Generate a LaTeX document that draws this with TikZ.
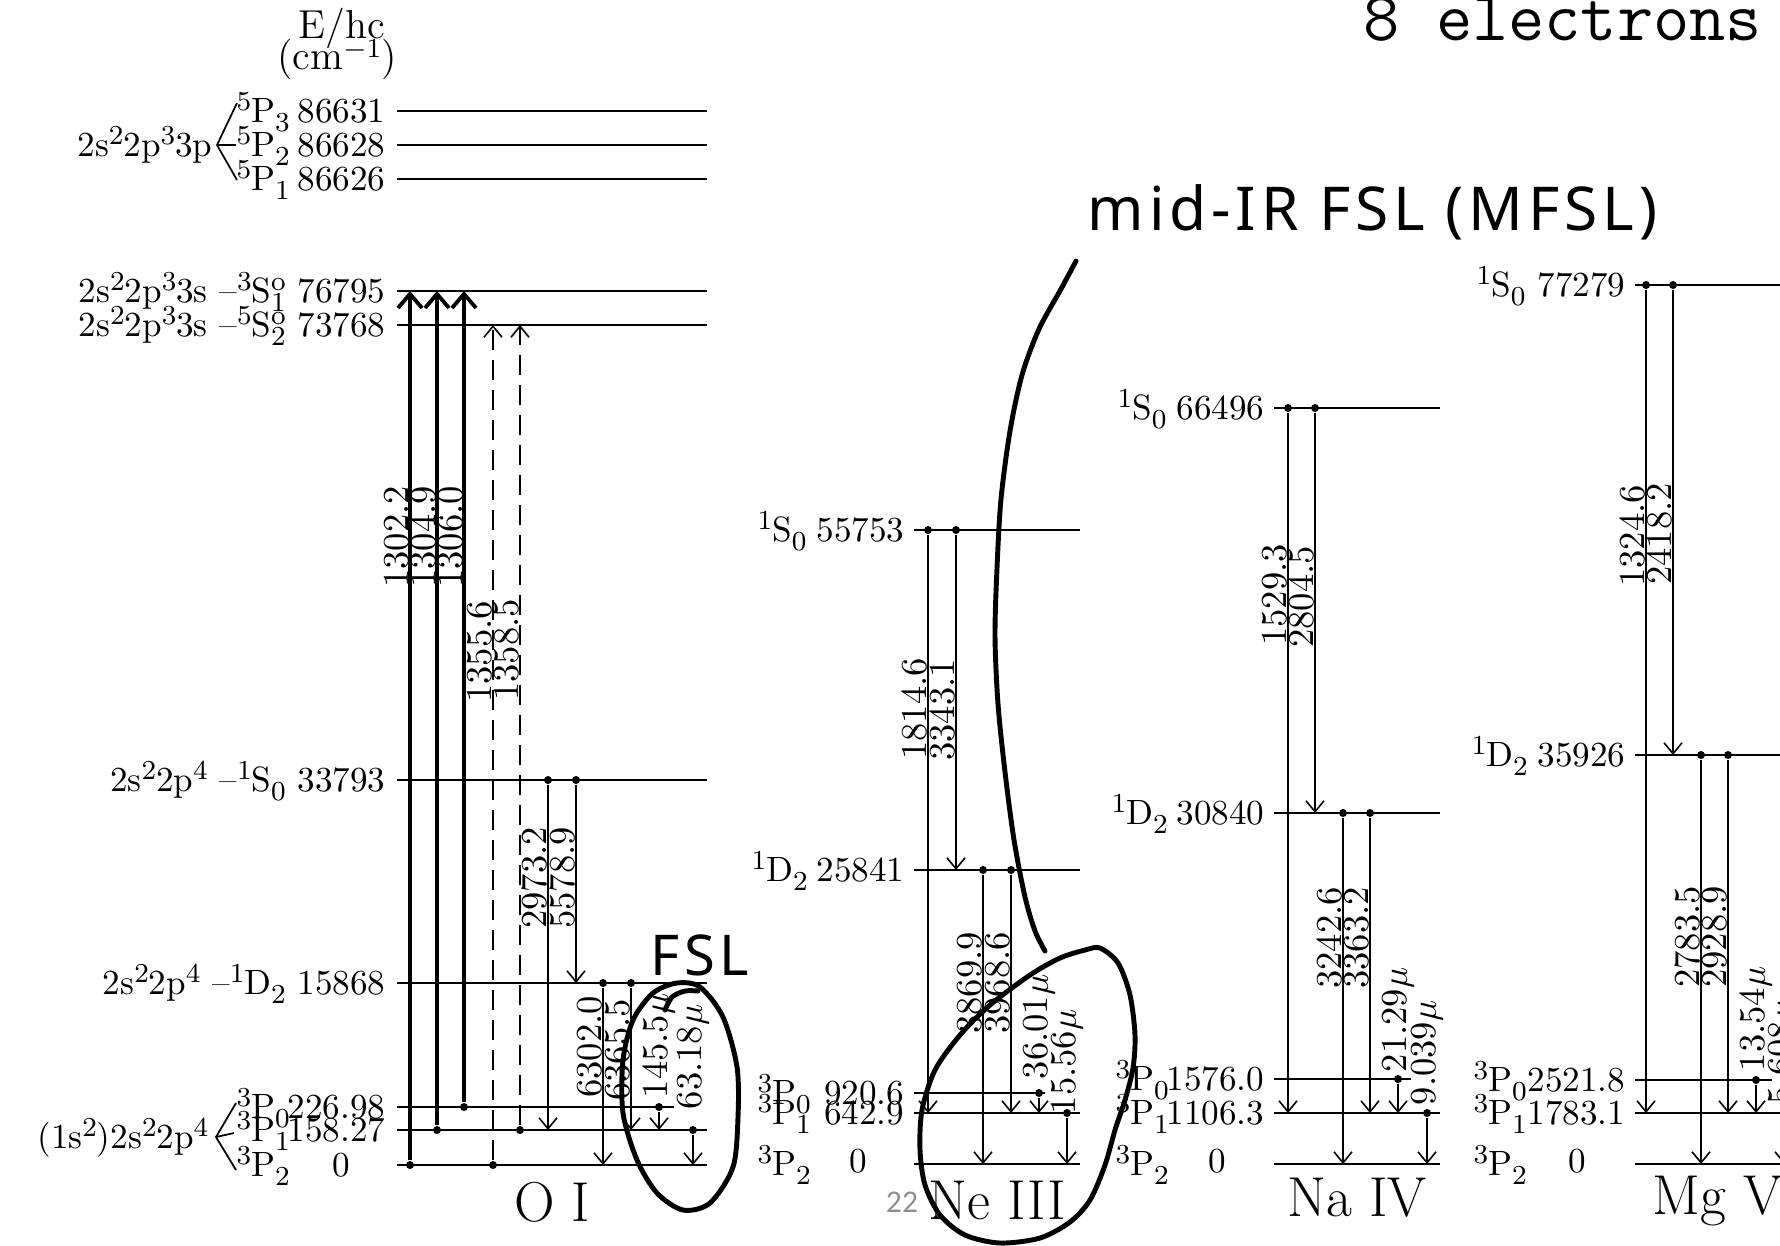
\documentclass[tikz,border=0pt]{standalone}
\usepackage{fontspec}
\newfontfamily\handfont{Noto Sans}[LetterSpace=8]
\newfontfamily\slidefont{Carlito}
\usetikzlibrary{arrows.meta}
\definecolor{pgray}{RGB}{143,143,143}
\newcommand{\spx}[1]{\raisebox{3.4pt}{\fontsize{7.8}{7.8}\selectfont #1}}
\newcommand{\sbx}[1]{\raisebox{-2.8pt}{\fontsize{7.8}{7.8}\selectfont #1}}
\newcommand{\lev}[4]{\coordinate (#1a) at (#2,#4); \coordinate (#1b) at (#3,#4); \draw[level] (#1a) -- (#1b);}
\newcommand{\tran}[5]{\node[dot] (#1) at (#2,0 |- #3a) {}; \draw[#5] (#1) -- (#2,0 |- #4a);}
\begin{document}
\begin{tikzpicture}[x=0.1mm,y=-0.1mm,
 level/.style={line width=0.5pt},
 thk/.style={line width=1.1pt,-{Straight Barb[length=1.4mm,width=2.4mm]}},
 thn/.style={line width=0.45pt,-{Straight Barb[length=1.1mm,width=1.8mm]}},
 dsh/.style={line width=0.45pt,dash pattern=on 2mm off 1mm,-{Straight Barb[length=1.1mm,width=1.8mm]}},
 dot/.style={circle,fill,inner sep=0pt,minimum size=0.8mm},
 lbl/.style={inner sep=0pt,font=\fontsize{10}{12}\selectfont},
 rl/.style={rotate=90,inner sep=0pt,text height=6.8pt,text depth=0pt,font=\fontsize{10.4}{12}\selectfont},
 big/.style={inner sep=0pt,font=\fontsize{16}{18}\selectfont},
 hw/.style={line width=1.4pt,line cap=round,line join=round},
 hwtext/.style={inner sep=0pt,font=\handfont\fontsize{17.2}{20}\selectfont},
]
\useasboundingbox (0,0) rectangle (1780,1245);
\clip (0,0) rectangle (1780,1245);

% ---------------- O I levels
\lev{O5P3}{397}{707}{111}
\lev{O5P2}{397}{707}{145}
\lev{O5P1}{397}{707}{179}
\lev{O3S}{397}{707}{291}
\lev{O5S}{397}{707}{325}
\lev{O1S}{397}{707}{780}
\lev{O1D}{397}{707}{983}
\lev{OP0}{397}{674}{1107}
\lev{OP1}{397}{707}{1130}
\lev{OP2}{397}{707}{1165}
% ---------------- Ne III levels
\lev{N1S}{914}{1080}{530}
\lev{N1D}{914}{1080}{870}
\lev{NP0}{914}{1045}{1093}
\lev{NP1}{914}{1080}{1113}
\lev{NP2}{914}{1080}{1164}
% ---------------- Na IV levels
\lev{A1S}{1274}{1440}{408}
\lev{A1D}{1274}{1440}{813}
\lev{AP0}{1274}{1411}{1079}
\lev{AP1}{1274}{1440}{1113}
\lev{AP2}{1274}{1440}{1164}
% ---------------- Mg V levels
\lev{M1S}{1635}{1800}{285}
\lev{M1D}{1635}{1800}{755}
\lev{MP0}{1635}{1772}{1080}
\lev{MP1}{1635}{1800}{1113}
\lev{MP2}{1635}{1800}{1164}

% ---------------- O I transitions
\tran{oa}{410}{OP2}{O3S}{thk}
\tran{ob}{437}{OP1}{O3S}{thk}
\tran{oc}{464}{OP0}{O3S}{thk}
\tran{od}{493}{OP2}{O5S}{dsh}
\tran{oe}{520}{OP1}{O5S}{dsh}
\tran{of}{548}{O1S}{OP1}{thn}
\tran{og}{576}{O1S}{O1D}{thn}
\tran{oh}{603}{O1D}{OP2}{thn}
\tran{oi}{631}{O1D}{OP1}{thn}
\tran{oj}{659}{OP0}{OP1}{thn}
\tran{ok}{693}{OP1}{OP2}{thn}
% ---------------- Ne III transitions
\tran{na}{928}{N1S}{NP1}{thn}
\tran{nb}{956}{N1S}{N1D}{thn}
\tran{nc}{983}{N1D}{NP2}{thn}
\tran{nd}{1011}{N1D}{NP1}{thn}
\tran{ne}{1039}{NP0}{NP1}{thn}
\tran{nf}{1067}{NP1}{NP2}{thn}
% ---------------- Na IV transitions
\tran{aa}{1288}{A1S}{AP1}{thn}
\tran{ab}{1315}{A1S}{A1D}{thn}
\tran{ac}{1343}{A1D}{AP2}{thn}
\tran{ad}{1370}{A1D}{AP1}{thn}
\tran{ae}{1398}{AP0}{AP1}{thn}
\tran{af}{1427}{AP1}{AP2}{thn}
% ---------------- Mg V transitions
\tran{ma}{1646}{M1S}{MP1}{thn}
\tran{mb}{1673}{M1S}{M1D}{thn}
\tran{mc}{1701}{M1D}{MP2}{thn}
\tran{md}{1728}{M1D}{MP1}{thn}
\tran{me}{1756}{MP0}{MP1}{thn}
\tran{mf}{1784}{MP1}{MP2}{thn}

% ---------------- wavelength labels
\node[rl] (t1) at (397,537) {1302.2};
\node[rl] (t2) at (424,537) {1304.9};
\node[rl] (t3) at (451,537) {1306.0};
\node[rl] (t4) at (480,652) {1355.6};
\node[rl] (t5) at (507,650) {1358.5};
\node[rl] (t6) at (535,878) {2973.2};
\node[rl] (t7) at (563,878) {5578.9};
\node[rl] (t8) at (590,1047) {6302.0};
\node[rl] (t9) at (618,1050) {6365.5};
\node[rl] (t10) at (656,1046) {145.5$\mu$};
\node[rl] (t11) at (690,1057) {63.18$\mu$};

\node[rl] (u1) at (915,709) {1814.6};
\node[rl] (u2) at (943,710) {3343.1};
\node[rl] (u3) at (970,983) {3869.9};
\node[rl] (u4) at (998,983) {3968.6};
\node[rl] (u5) at (1036,1027) {36.01$\mu$};
\node[rl] (u6) at (1064,1062) {15.56$\mu$};

\node[rl] (v1) at (1275,595) {1529.3};
\node[rl] (v2) at (1302,597) {2804.5};
\node[rl] (v3) at (1330,938) {3242.6};
\node[rl] (v4) at (1357,938) {3363.2};
\node[rl] (v5) at (1395,1020) {21.29$\mu$};
\node[rl] (v6) at (1424,1053) {9.039$\mu$};

\node[rl] (w1) at (1633,536) {1324.6};
\node[rl] (w2) at (1660,534) {2418.2};
\node[rl] (w3) at (1688,937) {2783.5};
\node[rl] (w4) at (1715,937) {2928.9};
\node[rl] (w5) at (1753,1019) {13.54$\mu$};
\node[rl] (w6) at (1781,1052) {5.608$\mu$};

% ---------------- O I level labels
\node[lbl,font=\fontsize{11.5}{13}\selectfont] (ehc) at (342,28) {E/hc};
\node[lbl,font=\fontsize{11.5}{13}\selectfont] (unit) at (337,59) {(cm\spx{$-$1})};
\node[lbl,anchor=base west] (s5p3) at (236,122) {\spx{5}P\sbx{3}};
\node[lbl,anchor=base west] (s5p2) at (236,156) {\spx{5}P\sbx{2}};
\node[lbl,anchor=base west] (s5p1) at (236,190) {\spx{5}P\sbx{1}};
\node[lbl,anchor=base east] (e5p3) at (386,122) {86631};
\node[lbl,anchor=base east] (e5p2) at (386,156) {86628};
\node[lbl,anchor=base east] (e5p1) at (386,190) {86626};
\node[lbl,anchor=base east] (c3p) at (213,156) {2s\spx{2}2p\spx{3}3p};
\coordinate (bra) at (217,145);
\draw[level] (237,103) -- (bra) -- (237,180);
\draw[level] (bra) -- (236,145);
\node[lbl,anchor=base east] (e3s) at (386,302) {2s\spx{2}2p\spx{3}3s \textendash\spx{3}S\rlap{\spx{o}}\sbx{1} 76795};
\node[lbl,anchor=base east] (e5s) at (386,336) {2s\spx{2}2p\spx{3}3s \textendash\spx{5}S\rlap{\spx{o}}\sbx{2} 73768};
\node[lbl,anchor=base east] (e1s) at (386,791) {2s\spx{2}2p\spx{4} \textendash\spx{1}S\sbx{0} 33793};
\node[lbl,anchor=base east] (e1d) at (386,994) {2s\spx{2}2p\spx{4} \textendash\spx{1}D\sbx{2} 15868};
\node[lbl,anchor=base east] (gs) at (209,1148) {(1s\spx{2})2s\spx{2}2p\spx{4}};
\coordinate (brb) at (216,1137);
\draw[level] (236,1103) -- (brb) -- (236,1170);
\draw[level] (brb) -- (234,1133);
\node[lbl,anchor=base west] (sp0) at (236,1118) {\spx{3}P\sbx{0}};
\node[lbl,anchor=base west] (sp1) at (236,1141) {\spx{3}P\sbx{1}};
\node[lbl,anchor=base west] (sp2) at (236,1176) {\spx{3}P\sbx{2}};
\node[lbl,anchor=base east] (ep0) at (386,1118) {226.98};
\node[lbl,anchor=base east] (ep1) at (386,1141) {158.27};
\node[lbl,anchor=base east] (ep2) at (351,1176) {0};
\node[big] (nOI) at (552,1202) {O I};

% ---------------- Ne III labels
\node[lbl,anchor=base west] (ns1) at (757,541) {\spx{1}S\sbx{0}};
\node[lbl,anchor=base east] (ne1) at (905,541) {55753};
\node[lbl,anchor=base west] (ns2) at (751,881) {\spx{1}D\sbx{2}};
\node[lbl,anchor=base east] (ne2) at (905,881) {25841};
\node[lbl,anchor=base west] (ns3) at (757,1104) {\spx{3}P\sbx{0}};
\node[lbl,anchor=base east] (ne3) at (905,1104) {920.6};
\node[lbl,anchor=base west] (ns4) at (757,1124) {\spx{3}P\sbx{1}};
\node[lbl,anchor=base east] (ne4) at (905,1124) {642.9};
\node[lbl,anchor=base west] (ns5) at (757,1175) {\spx{3}P\sbx{2}};
\node[lbl,anchor=base east] (ne5) at (868,1172) {0};
\node[big] (nNe) at (997,1200) {Ne III};
\node[inner sep=0pt,text=pgray,font=\slidefont\fontsize{9}{10}\selectfont] (pg) at (902,1202) {22};

% ---------------- Na IV labels
\node[lbl,anchor=base west] (as1) at (1117,419) {\spx{1}S\sbx{0}};
\node[lbl,anchor=base east] (ae1) at (1265,419) {66496};
\node[lbl,anchor=base west] (as2) at (1111,824) {\spx{1}D\sbx{2}};
\node[lbl,anchor=base east] (ae2) at (1265,824) {30840};
\node[lbl,anchor=base west] (as3) at (1115,1090) {\spx{3}P\sbx{0}};
\node[lbl,anchor=base east] (ae3) at (1265,1090) {1576.0};
\node[lbl,anchor=base west] (as4) at (1115,1124) {\spx{3}P\sbx{1}};
\node[lbl,anchor=base east] (ae4) at (1265,1124) {1106.3};
\node[lbl,anchor=base west] (as5) at (1115,1175) {\spx{3}P\sbx{2}};
\node[lbl,anchor=base east] (ae5) at (1227,1172) {0};
\node[big] (nNa) at (1357,1198) {Na IV};

% ---------------- Mg V labels
\node[lbl,anchor=base west] (ms1) at (1476,296) {\spx{1}S\sbx{0}};
\node[lbl,anchor=base east] (me1) at (1626,296) {77279};
\node[lbl,anchor=base west] (ms2) at (1471,766) {\spx{1}D\sbx{2}};
\node[lbl,anchor=base east] (me2) at (1626,766) {35926};
\node[lbl,anchor=base west] (ms3) at (1473,1091) {\spx{3}P\sbx{0}};
\node[lbl,anchor=base east] (me3) at (1626,1091) {2521.8};
\node[lbl,anchor=base west] (ms4) at (1473,1124) {\spx{3}P\sbx{1}};
\node[lbl,anchor=base east] (me4) at (1626,1124) {1783.1};
\node[lbl,anchor=base west] (ms5) at (1473,1175) {\spx{3}P\sbx{2}};
\node[lbl,anchor=base east] (me5) at (1587,1172) {0};
\node[big,anchor=west] (nMg) at (1652,1201) {Mg V};

% ---------------- title
\node[inner sep=0pt,anchor=base west,font=\fontsize{20}{22}\selectfont\ttfamily] (title) at (1363,40) {8 electrons};

% ---------------- handwriting
\node[hwtext,anchor=base west] (mfsl) at (1087,230) {mid-IR FSL (MFSL)};
\node[hwtext,font=\handfont\fontsize{16}{18}\selectfont] (fsl) at (700,955) {FSL};
\draw[hw] plot[smooth] coordinates {(1076,261) (1061,289) (1039,329) (1022,375) (1010,431) (1001,499) (997,568) (995,636) (998,704) (1005,772) (1014,840) (1025,897) (1035,931) (1045,951)};
\draw[hw] plot[smooth cycle] coordinates {(1085,950) (1060,958) (1030,975) (990,1005) (960,1035) (935,1070) (922,1110) (920,1150) (925,1185) (940,1215) (965,1235) (1000,1243) (1040,1238) (1070,1222) (1090,1200) (1105,1165) (1115,1130) (1125,1100) (1133,1068) (1135,1035) (1130,995) (1118,963) (1100,948)};
\draw[hw] plot[smooth cycle] coordinates {(700,987) (723,1017) (737,1067) (738,1117) (733,1167) (710,1203) (683,1210) (657,1193) (637,1160) (623,1113) (623,1060) (633,1020) (653,993) (677,983)};
\draw[hw] plot[smooth] coordinates {(665,1010) (672,997) (685,991) (698,991)};
\end{tikzpicture}
\end{document}
